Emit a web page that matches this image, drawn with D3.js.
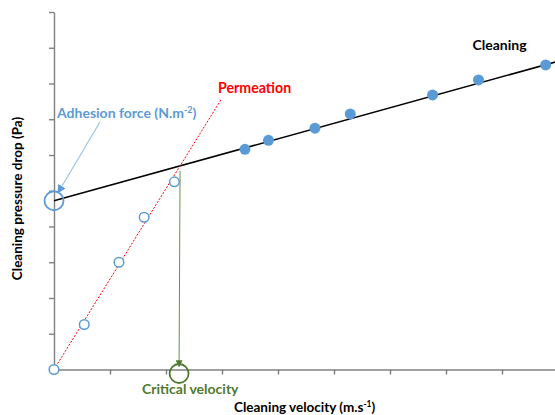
<!DOCTYPE html>
<html>
<head>
<meta charset="utf-8">
<script src="https://cdn.jsdelivr.net/npm/d3@7"></script>
<style>
  body { margin: 0; background: #fff; }
  svg { font-family: Lato, "Open Sans", sans-serif; font-weight: bold; }
  .axis path, .axis line { stroke: #808080; stroke-width: 1.4; }
</style>
</head>
<body>
<div id="chart"></div>
<script>
// permeation (open circles) and cleaning (filled circles) measurements
const permeationVelocity = [0, 0.54, 1.16, 1.61, 2.15]
const permeationDrop = [0, 1.26, 3.0, 4.26, 5.25]
const cleaningVelocity = [3.41, 3.83, 4.66, 5.29, 6.76, 7.58, 8.78]
const cleaningDrop = [6.16, 6.41, 6.75, 7.15, 7.68, 8.10, 8.52]

// fitted lines: [intercept, slope]
const cleaningFit = [4.72, 0.4335]
const permeationFit = [0, 2.53]
const permeationEnd = 2.99

const xTicks = d3.range(0, 10)
const yTicks = d3.range(0, 11)

const margin = {top: 12, right: -3, bottom: 45.5, left: 54}
const width = 555 - margin.left - margin.right
const height = 415 - margin.top - margin.bottom

const svg = d3.select('#chart')
    .append('svg')
    .attr('width', 555)
    .attr('height', 415)

const defs = svg.append('defs')
const marker = (id, color) => defs.append('marker')
    .attr('id', id)
    .attr('viewBox', '0 0 10 10')
    .attr('refX', 9).attr('refY', 5)
    .attr('markerWidth', 7).attr('markerHeight', 7)
    .attr('orient', 'auto-start-reverse')
    .append('path')
    .attr('d', 'M0,0 L10,5 L0,10 z')
    .attr('fill', color)
marker('arrowGreen', '#4f7a2f')
marker('arrowBlue', '#5b9bd5')

const plot = svg.append('g')
    .attr('transform', `translate(${margin.left},${margin.top})`)

const x = d3.scaleLinear().domain([0, 9]).range([0, width])
const y = d3.scaleLinear().domain([0, 10]).range([height, 0])

// axes, no tick labels
plot.append('g')
    .attr('class', 'axis')
    .attr('transform', `translate(0,${height})`)
    .call(d3.axisBottom(x).tickValues(xTicks).tickFormat('').tickSize(5).tickSizeOuter(0))
plot.append('g')
    .attr('class', 'axis')
    .call(d3.axisLeft(y).tickValues(yTicks).tickFormat('').tickSize(5).tickSizeOuter(0))

// cleaning line
const xMaxLine = 9
plot.append('line')
    .attr('x1', x(0)).attr('y1', y(cleaningFit[0]))
    .attr('x2', x(xMaxLine)).attr('y2', y(cleaningFit[0] + cleaningFit[1] * xMaxLine))
    .attr('stroke', '#000').attr('stroke-width', 1.5)

// permeation line (dotted red)
plot.append('line')
    .attr('x1', x(0)).attr('y1', y(permeationFit[0]))
    .attr('x2', x(permeationEnd)).attr('y2', y(permeationFit[0] + permeationFit[1] * permeationEnd))
    .attr('stroke', '#ff0000').attr('stroke-width', 1)
    .attr('stroke-dasharray', '2,1.5')

// critical velocity = intersection of the two lines
const vc = (cleaningFit[0] - permeationFit[0]) / (permeationFit[1] - cleaningFit[1])
const yc = cleaningFit[0] + cleaningFit[1] * vc
plot.append('line')
    .attr('x1', x(vc)).attr('y1', y(yc) + 5)
    .attr('x2', x(vc) - 1).attr('y2', y(0) - 3)
    .attr('stroke', '#6a8f4a').attr('stroke-width', 1)
    .attr('marker-end', 'url(#arrowGreen)')
plot.append('circle')
    .attr('cx', x(vc) - 1).attr('cy', y(0) + 4)
    .attr('r', 9.5)
    .attr('fill', 'none').attr('stroke', '#4f7a2f').attr('stroke-width', 1.8)

// adhesion force marker
plot.append('circle')
    .attr('cx', x(0)).attr('cy', y(cleaningFit[0]))
    .attr('r', 9.5)
    .attr('fill', 'none').attr('stroke', '#5b9bd5').attr('stroke-width', 1.8)
plot.append('line')
    .attr('x1', 100 - margin.left).attr('y1', 122 - margin.top)
    .attr('x2', x(0) + 4).attr('y2', y(cleaningFit[0]) - 8)
    .attr('stroke', '#9dc3e6').attr('stroke-width', 1.2)
    .attr('marker-end', 'url(#arrowBlue)')

// points
plot.append('g').selectAll('circle')
    .data(permeationVelocity.map((v, i) => [v, permeationDrop[i]]))
    .join('circle')
    .attr('cx', d => x(d[0]))
    .attr('cy', d => y(d[1]))
    .attr('r', 4.8)
    .attr('fill', '#fff')
    .attr('stroke', '#5b9bd5')
    .attr('stroke-width', 1.5)

plot.append('g').selectAll('circle')
    .data(cleaningVelocity.map((v, i) => [v, cleaningDrop[i]]))
    .join('circle')
    .attr('cx', d => x(d[0]))
    .attr('cy', d => y(d[1]))
    .attr('r', 5.5)
    .attr('fill', '#5b9bd5')

// annotations
svg.append('text')
    .attr('x', 218).attr('y', 93)
    .attr('font-size', 14.2).attr('fill', '#ff0000')
    .text('Permeation')
svg.append('text')
    .attr('x', 472.5).attr('y', 50)
    .attr('font-size', 14).attr('fill', '#000')
    .text('Cleaning')
svg.append('text')
    .attr('x', 142).attr('y', 393.5)
    .attr('font-size', 14).attr('fill', '#4f7a2f')
    .text('Critical velocity')

const adh = svg.append('text')
    .attr('x', 57).attr('y', 118)
    .attr('font-size', 14).attr('fill', '#5b9bd5')
adh.append('tspan').text('Adhesion force (N.m')
adh.append('tspan').attr('dy', -5).attr('font-size', 9).text('-2')
adh.append('tspan').attr('dy', 5).text(')')

// axis titles
const xt = svg.append('text')
    .attr('x', 234).attr('y', 411.5)
    .attr('font-size', 13.5).attr('fill', '#000')
xt.append('tspan').text('Cleaning velocity (m.s')
xt.append('tspan').attr('dy', -5).attr('font-size', 8.5).text('-1')
xt.append('tspan').attr('dy', 5).text(')')

svg.append('text')
    .attr('transform', 'translate(22,198.5) rotate(-90)')
    .attr('text-anchor', 'middle')
    .attr('font-size', 13.5).attr('fill', '#000')
    .text('Cleaning pressure drop (Pa)')
</script>
</body>
</html>
